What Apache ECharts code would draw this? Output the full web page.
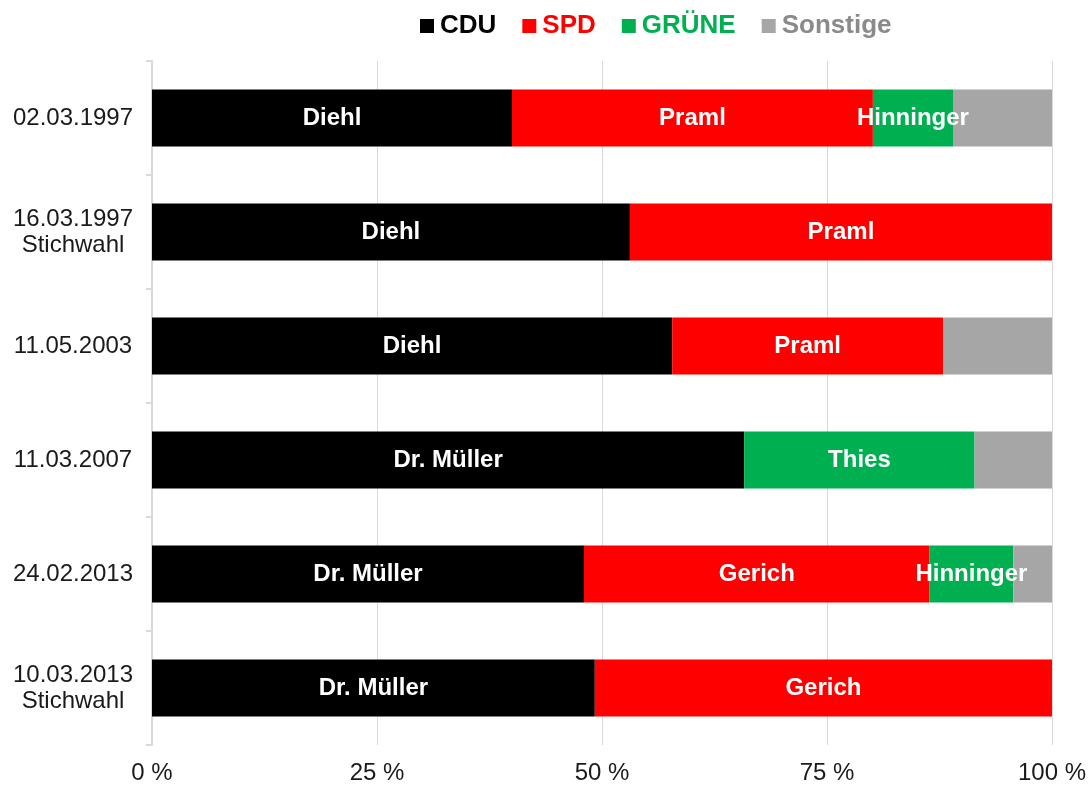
<!DOCTYPE html>
<html>
<head>
<meta charset="utf-8">
<script src="https://cdn.jsdelivr.net/npm/echarts@6/dist/echarts.min.js"></script>
<style>
  html, body { margin: 0; padding: 0; background: #fff; }
  #main { width: 1091px; height: 789px; }
</style>
</head>
<body>
<div id="main"></div>
<script>
// Wahlergebnisse (Anteile in %)
var categories = ['02.03.1997', '16.03.1997\nStichwahl', '11.05.2003', '11.03.2007', '24.02.2013', '10.03.2013\nStichwahl'];
var cdu      = [40.0, 53.1, 57.8, 65.8, 48.0, 49.2];
var spd      = [40.1, 46.9, 30.1, 0,    38.4, 50.8];
var gruene   = [8.9,  0,    0,    25.6, 9.3,  0];
var sonstige = [11.0, 0,    12.1, 8.6,  4.3,  0];
var xTicks   = ['0 %', '25 %', '50 %', '75 %', '100 %'];

// Kandidatennamen in den Balken
var cduNames    = ['Diehl', 'Diehl', 'Diehl', 'Dr. Müller', 'Dr. Müller', 'Dr. Müller'];
var spdNames    = ['Praml', 'Praml', 'Praml', '', 'Gerich', 'Gerich'];
var grueneNames = ['Hinninger', '', '', 'Thies', 'Hinninger', ''];

var myChart = echarts.init(document.getElementById('main'));

function barLabel(names) {
    return {
        show: true,
        position: 'inside',
        color: '#fff',
        fontFamily: 'Liberation Sans, Arial, sans-serif',
        fontWeight: 'bold',
        fontSize: 24,
        formatter: function (p) { return names[p.dataIndex]; }
    };
}

var option = {
    animation: false,
    legend: {
        top: 8,
        left: 415,
        itemWidth: 14,
        itemHeight: 14,
        itemGap: 26,
        icon: 'rect',
        textStyle: {
            fontFamily: 'Liberation Sans, Arial, sans-serif',
            fontWeight: 'bold',
            fontSize: 26,
            padding: [0, 0, 0, 1]
        },
        data: [
            {name: 'CDU', textStyle: {color: '#000'}},
            {name: 'SPD', textStyle: {color: '#ff0000'}},
            {name: 'GRÜNE', textStyle: {color: '#00b050'}},
            {name: 'Sonstige', textStyle: {color: '#8a8a8a'}}
        ]
    },
    grid: {
        left: 152,
        right: 39,
        top: 61,
        bottom: 44
    },
    xAxis: {
        type: 'value',
        min: 0,
        max: 100,
        interval: 25,
        axisLine: {show: false},
        axisTick: {show: false},
        splitLine: {lineStyle: {color: '#d9d9d9', width: 1}},
        axisLabel: {
            margin: 16,
            fontFamily: 'Liberation Sans, Arial, sans-serif',
            fontSize: 24,
            color: '#1a1a1a',
            formatter: function (v) { return xTicks[v / 25]; }
        }
    },
    yAxis: {
        type: 'category',
        inverse: true,
        data: categories,
        axisLine: {lineStyle: {color: '#d9d9d9', width: 2}},
        axisTick: {show: true, length: 6, lineStyle: {color: '#d9d9d9', width: 2}},
        axisLabel: {
            margin: 79,
            fontFamily: 'Liberation Sans, Arial, sans-serif',
            fontSize: 24,
            lineHeight: 26,
            color: '#1a1a1a',
            align: 'center'
        }
    },
    series: [
        {
            name: 'CDU', type: 'bar', stack: 'all', barWidth: 57,
            itemStyle: {color: '#000'},
            label: barLabel(cduNames),
            data: cdu
        },
        {
            name: 'SPD', type: 'bar', stack: 'all',
            itemStyle: {color: '#ff0000'},
            label: barLabel(spdNames),
            data: spd
        },
        {
            name: 'GRÜNE', type: 'bar', stack: 'all',
            itemStyle: {color: '#00b050'},
            label: barLabel(grueneNames),
            data: gruene
        },
        {
            name: 'Sonstige', type: 'bar', stack: 'all',
            itemStyle: {color: '#a6a6a6'},
            data: sonstige
        }
    ]
};

myChart.setOption(option);
</script>
</body>
</html>
